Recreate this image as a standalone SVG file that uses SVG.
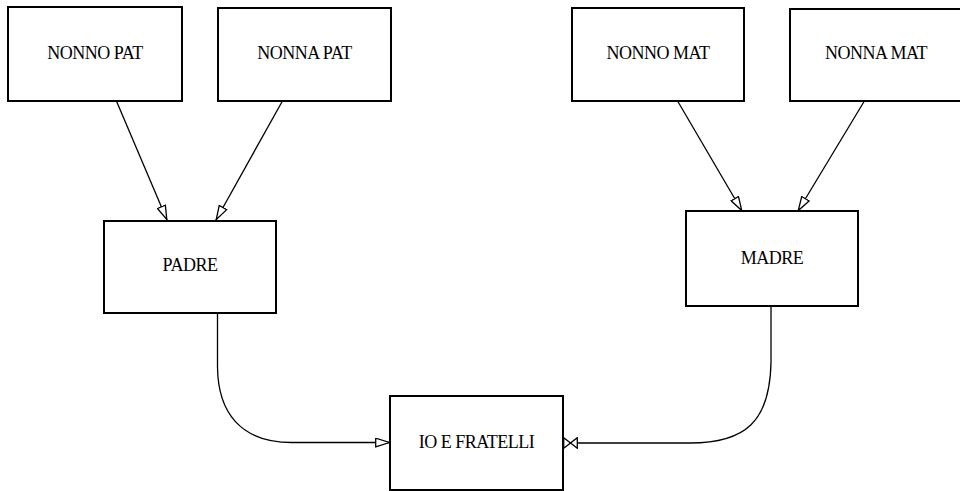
<svg xmlns="http://www.w3.org/2000/svg" width="960" height="491" viewBox="0 0 960 491">
<style>
.box{fill:#fff;stroke:#000;stroke-width:2}
.lbl{font-family:"Liberation Serif","Times New Roman",serif;font-size:18px;letter-spacing:-0.5px;fill:#000;text-anchor:middle}
.edge{fill:none;stroke:#000;stroke-width:1.3}
</style>
<defs>
<marker id="tri" viewBox="0 0 15 10" refX="15" refY="5" markerWidth="15" markerHeight="10" markerUnits="userSpaceOnUse" orient="auto">
<path d="M0.7,0.7 L14.5,5 L0.7,9.3 z" fill="#fff" stroke="#000" stroke-width="1.3"/>
</marker>
<marker id="bow" viewBox="0 0 15 12" refX="15" refY="6" markerWidth="15" markerHeight="12" markerUnits="userSpaceOnUse" orient="auto">
<path d="M0.7,0.7 L14.3,11.3 L14.3,0.7 L0.7,11.3 z" fill="#fff" stroke="#000" stroke-width="1.3"/>
</marker>
</defs>
<rect width="960" height="491" fill="#fff"/>
<g id="connectors">
<path class="edge" d="M116,100 L167,220" marker-end="url(#tri)"/>
<path class="edge" d="M283,100 L216,220" marker-end="url(#tri)"/>
<path class="edge" d="M677,100 L742,211" marker-end="url(#tri)"/>
<path class="edge" d="M865,100 L798,211" marker-end="url(#tri)"/>
<path class="edge" d="M217.5,313 L217.5,367 C218,412 240,442.5 292,442.5 L390,442.5" marker-end="url(#tri)"/>
<path class="edge" d="M771,306 L771,362 C770,422 745,443 690,443 L563,443" marker-end="url(#bow)"/>
</g>
<g id="nonno_pat"><rect class="box" x="8" y="7" width="174" height="94"/><text class="lbl" x="95" y="58.5">NONNO PAT</text></g>
<g id="nonna_pat"><rect class="box" x="218" y="8" width="173" height="93"/><text class="lbl" x="304.5" y="58.5">NONNA PAT</text></g>
<g id="nonno_mat"><rect class="box" x="572" y="8" width="172" height="93"/><text class="lbl" x="658" y="58.5">NONNO MAT</text></g>
<g id="nonna_mat"><rect class="box" x="790" y="9" width="173" height="92"/><text class="lbl" x="876" y="58.5">NONNA MAT</text></g>
<g id="padre"><rect class="box" x="104" y="221" width="172" height="92"/><text class="lbl" x="190" y="271">PADRE</text></g>
<g id="madre"><rect class="box" x="686" y="211" width="172" height="95"/><text class="lbl" x="772" y="263.5">MADRE</text></g>
<g id="io_e_fratelli"><rect class="box" x="390" y="396" width="173" height="94"/><text class="lbl" x="476.5" y="448">IO E FRATELLI</text></g>
</svg>
